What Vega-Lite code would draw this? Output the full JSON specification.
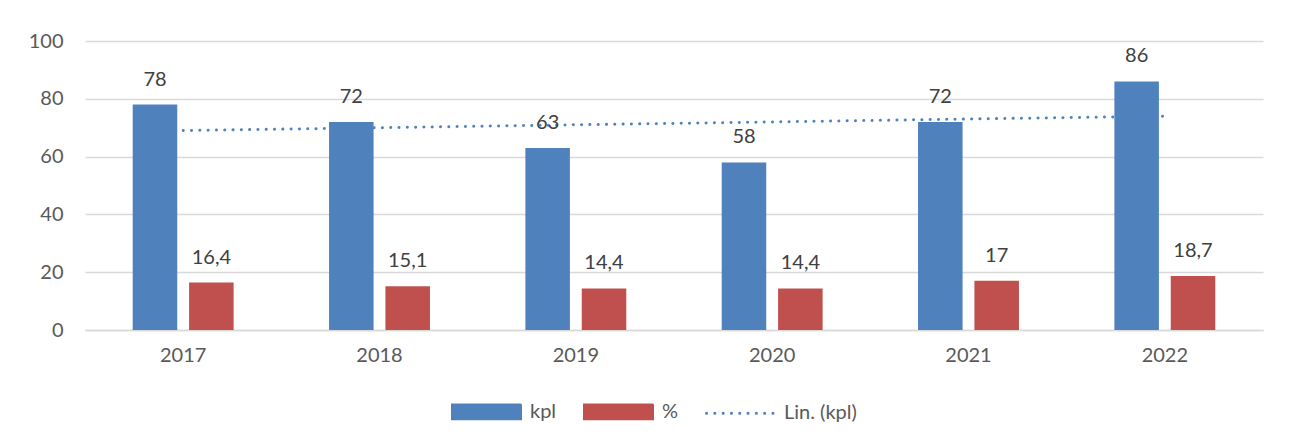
{
  "$schema": "https://vega.github.io/schema/vega-lite/v6.json",
  "autosize": {"type": "none"},
  "width": 1178,
  "height": 289,
  "padding": {"left": 85, "top": 41, "right": 29, "bottom": 111},
  "background": "white",
  "config": {
    "view": {"stroke": null},
    "font": "Lato",
    "axis": {"labelFont": "Lato", "labelFontSize": 20, "labelColor": "#595959", "ticks": false, "title": null, "gridColor": "#d9d9d9", "gridWidth": 1.3, "domainColor": "#d9d9d9", "domainWidth": 1.3},
    "legend": {"labelFont": "Lato", "labelFontSize": 20, "labelColor": "#595959"}
  },
  "datasets": {
    "bars": [
      {"year": "2017", "series": "kpl", "value": 78, "label": "78"},
      {"year": "2017", "series": "%", "value": 16.4, "label": "16,4"},
      {"year": "2018", "series": "kpl", "value": 72, "label": "72"},
      {"year": "2018", "series": "%", "value": 15.1, "label": "15,1"},
      {"year": "2019", "series": "kpl", "value": 63, "label": "63"},
      {"year": "2019", "series": "%", "value": 14.4, "label": "14,4"},
      {"year": "2020", "series": "kpl", "value": 58, "label": "58"},
      {"year": "2020", "series": "%", "value": 14.4, "label": "14,4"},
      {"year": "2021", "series": "kpl", "value": 72, "label": "72"},
      {"year": "2021", "series": "%", "value": 17, "label": "17"},
      {"year": "2022", "series": "kpl", "value": 86, "label": "86"},
      {"year": "2022", "series": "%", "value": 18.7, "label": "18,7"}
    ],
    "trend": [
      {"year": "2017", "series": "Lin. (kpl)", "value": 69},
      {"year": "2018", "series": "Lin. (kpl)", "value": 70},
      {"year": "2019", "series": "Lin. (kpl)", "value": 71},
      {"year": "2020", "series": "Lin. (kpl)", "value": 72},
      {"year": "2021", "series": "Lin. (kpl)", "value": 73},
      {"year": "2022", "series": "Lin. (kpl)", "value": 74}
    ]
  },
  "encoding": {
    "x": {"field": "year", "type": "nominal", "scale": {"paddingInner": 0.486, "paddingOuter": 0.243}, "axis": {"labelAngle": 0, "labelPadding": 15, "grid": false}},
    "y": {"field": "value", "type": "quantitative", "scale": {"domain": [0, 100], "nice": false}, "axis": {"values": [0, 20, 40, 60, 80, 100], "domain": false, "labelPadding": 22}}
  },
  "layer": [
    {
      "data": {"name": "trend"},
      "mark": {"type": "line", "strokeWidth": 3, "strokeCap": "round", "strokeDash": [0.1, 8.2]},
      "encoding": {
        "color": {"field": "series", "type": "nominal", "scale": {"domain": ["kpl", "%", "Lin. (kpl)"], "range": ["#4F81BD", "#C0504D", "#4F81BD"]},
          "legend": {
            "title": null, "orient": "none", "direction": "horizontal", "legendX": 366, "legendY": 335,
            "symbolType": "M-1,-0.2H1V0.2H-1Z", "symbolSize": 4624, "labelOffset": 8, "columnPadding": 21, "padding": 0,
            "encode": {"symbols": {"update": {
              "shape": {"signal": "datum.value === 'Lin. (kpl)' ? 'M-1,0H1' : 'M-1,-0.2H1V0.2H-1Z'"},
              "fill": {"signal": "datum.value === 'Lin. (kpl)' ? 'transparent' : (datum.value === '%' ? '#C0504D' : '#4F81BD')"},
              "stroke": {"signal": "datum.value === 'Lin. (kpl)' ? '#4F81BD' : 'transparent'"},
              "strokeDash": {"signal": "datum.value === 'Lin. (kpl)' ? [0.1, 8.2] : [1, 0]"},
              "strokeWidth": {"value": 3},
              "strokeCap": {"value": "round"},
              "opacity": {"value": 1}
            }}}
          }
        }
      }
    },
    {
      "data": {"name": "bars"},
      "mark": {"type": "bar"},
      "encoding": {
        "xOffset": {"field": "series", "type": "nominal", "scale": {"domain": ["kpl", "%"], "paddingInner": 0.21, "paddingOuter": 0}},
        "color": {"field": "series", "type": "nominal"}
      }
    },
    {
      "data": {"name": "bars"},
      "mark": {"type": "text", "baseline": "alphabetic", "dy": -19, "fontSize": 20, "color": "#404040", "font": "Lato"},
      "encoding": {
        "xOffset": {"field": "series", "type": "nominal"},
        "text": {"field": "label", "type": "nominal"}
      }
    }
  ]
}
